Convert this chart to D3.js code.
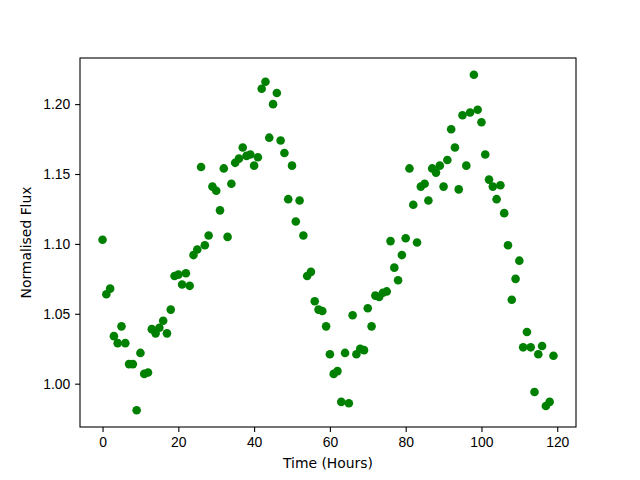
<!DOCTYPE html>
<html>
<head>
<meta charset="utf-8">
<script src="https://cdn.jsdelivr.net/npm/d3@7"></script>
<style>
  body { margin: 0; background: #fff; }
  svg { display: block; font-family: "DejaVu Sans", sans-serif; }
</style>
</head>
<body>
<div id="chart"></div>
<script>
// hourly samples 0..119
const hours = d3.range(0, 120);
const flux = [
  1.103, 1.064, 1.068, 1.034, 1.029, 1.041, 1.029, 1.014, 1.014, 0.981,
  1.022, 1.007, 1.008, 1.039, 1.036, 1.040, 1.045, 1.036, 1.053, 1.077,
  1.078, 1.071, 1.079, 1.070, 1.092, 1.096, 1.155, 1.099, 1.106, 1.141,
  1.138, 1.124, 1.154, 1.105, 1.143, 1.158, 1.161, 1.169, 1.163, 1.164,
  1.156, 1.162, 1.211, 1.216, 1.176, 1.200, 1.208, 1.174, 1.165, 1.132,
  1.156, 1.116, 1.131, 1.106, 1.077, 1.080, 1.059, 1.053, 1.052, 1.041,
  1.021, 1.007, 1.009, 0.987, 1.022, 0.986, 1.049, 1.021, 1.025, 1.024,
  1.054, 1.041, 1.063, 1.062, 1.065, 1.066, 1.102, 1.083, 1.074, 1.092,
  1.104, 1.154, 1.128, 1.101, 1.141, 1.143, 1.131, 1.154, 1.151, 1.156,
  1.141, 1.160, 1.182, 1.169, 1.139, 1.192, 1.156, 1.194, 1.221, 1.196,
  1.187, 1.164, 1.146, 1.141, 1.132, 1.142, 1.122, 1.099, 1.060, 1.075,
  1.088, 1.026, 1.037, 1.026, 0.994, 1.021, 1.027, 0.984, 0.987, 1.020
];
const xTicks = [0, 20, 40, 60, 80, 100, 120];
const yTicks = [1.00, 1.05, 1.10, 1.15, 1.20];

const data = hours.map((h, i) => ({ h: h, f: flux[i] }));

const W = 640, H = 480;
const margin = { top: 58, right: 64, bottom: 53, left: 80 };
const width = W - margin.left - margin.right;
const height = H - margin.top - margin.bottom;

const svg = d3.select('#chart')
  .append('svg')
  .attr('width', W)
  .attr('height', H);

const g = svg.append('g')
  .attr('transform', `translate(${margin.left},${margin.top})`);

// matplotlib-like 5% margins
const xExt = d3.extent(hours);
const yExt = d3.extent(flux);
const xPad = (xExt[1] - xExt[0]) * 0.05;
const yPad = (yExt[1] - yExt[0]) * 0.05;

const x = d3.scaleLinear()
  .domain([xExt[0] - xPad, xExt[1] + xPad])
  .range([0, width]);

const y = d3.scaleLinear()
  .domain([yExt[0] - yPad, yExt[1] + yPad])
  .range([height, 0]);

const styleAxis = sel => {
  sel.select('.domain').remove();
  sel.selectAll('.tick line').attr('stroke', '#000').attr('stroke-width', 1.1);
  sel.selectAll('.tick text').attr('fill', '#000').style('font-size', '13.9px');
};

g.append('g')
  .attr('transform', `translate(0,${height})`)
  .call(d3.axisBottom(x).tickValues(xTicks).tickFormat(d3.format('d')).tickSize(4.9).tickPadding(4.9))
  .call(styleAxis);

g.append('g')
  .call(d3.axisLeft(y).tickValues(yTicks).tickFormat(d3.format('.2f')).tickSize(4.9).tickPadding(4.9))
  .call(styleAxis);

g.selectAll('circle.pt')
  .data(data)
  .enter()
  .append('circle')
  .attr('class', 'pt')
  .attr('cx', d => x(d.h))
  .attr('cy', d => y(d.f))
  .attr('r', 4.3)
  .attr('fill', '#008000');

// frame
g.append('rect')
  .attr('width', width)
  .attr('height', height)
  .attr('fill', 'none')
  .attr('stroke', '#000')
  .attr('stroke-width', 1.1);

svg.append('text')
  .attr('x', margin.left + width / 2)
  .attr('y', 468)
  .attr('text-anchor', 'middle')
  .style('font-size', '13.9px')
  .text('Time (Hours)');

svg.append('text')
  .attr('transform', `translate(31,${margin.top + height / 2}) rotate(-90)`)
  .attr('text-anchor', 'middle')
  .style('font-size', '13.9px')
  .text('Normalised Flux');
</script>
</body>
</html>
